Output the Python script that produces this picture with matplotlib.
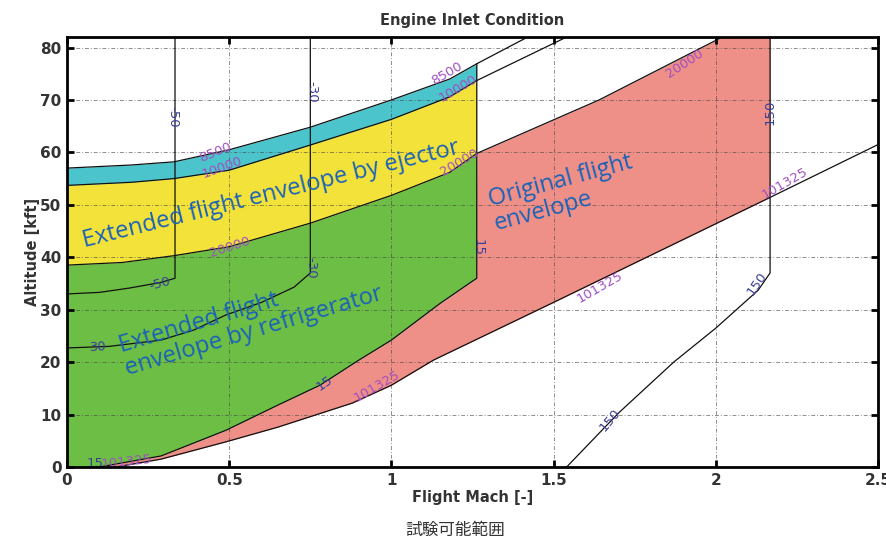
import matplotlib
matplotlib.use("Agg")

import matplotlib.pyplot as plt
import numpy as np

# pressure contours [Pa]: (Mach, altitude kft)
p8500_mach = [0, 0.1, 0.2, 0.33, 0.5, 0.75, 1.0, 1.18, 1.263, 1.42]
p8500_alt = [57.0, 57.3, 57.6, 58.2, 60.5, 64.8, 70.0, 74.0, 76.9, 82.0]
p10000_mach = [0, 0.2, 0.33, 0.5, 0.75, 1.0, 1.18, 1.263, 1.54]
p10000_alt = [53.7, 54.3, 55.0, 56.6, 61.4, 66.3, 70.6, 73.7, 82.0]
p20000_mach = [0, 0.17, 0.33, 0.5, 0.75, 1.0, 1.18, 1.263, 1.64, 2.02]
p20000_alt = [38.5, 39.0, 40.3, 42.0, 46.5, 51.8, 56.2, 59.8, 70.0, 82.0]
p101325_mach = [0.15, 0.29, 0.49, 0.65, 0.88, 1.0, 1.13, 1.5, 2.17, 2.5]
p101325_alt = [0.0, 1.5, 4.8, 7.6, 12.2, 15.6, 20.4, 31.4, 51.5, 61.5]

# temperature contours [degC]
t15_mach = [0.1, 0.29, 0.49, 0.65, 0.78, 0.9, 1.0, 1.15, 1.263, 1.263]
t15_alt = [0.0, 2.1, 7.0, 11.8, 15.6, 20.4, 24.2, 31.2, 36.0, 76.9]
tm50_mach = [0, 0.1, 0.19, 0.29, 0.333, 0.333]
tm50_alt = [33.0, 33.3, 34.1, 35.2, 36.0, 82.0]
tm30_mach = [0, 0.13, 0.29, 0.39, 0.49, 0.6, 0.7, 0.75, 0.75]
tm30_alt = [22.7, 23.0, 24.2, 26.1, 29.0, 31.4, 34.3, 37.0, 82.0]
t150_mach = [1.54, 1.70, 1.87, 2.0, 2.13, 2.167, 2.167]
t150_alt = [0.0, 10.3, 20.0, 26.5, 33.7, 37.0, 82.0]

MACH_LIMIT = 1.263   # refrigerator / ejector limit
MACH_MAX = 2.167     # original envelope right edge

CYAN = "#4cc4cc"
YELLOW = "#f2e23a"
GREEN = "#6dbe45"
SALMON = "#ef9088"
P_COLOR = "#a04fc0"
T_COLOR = "#3b3f9a"
NOTE = "#1a62b8"

p_labels = [
    ("8500", 0.459, 60.0, 22), ("10000", 0.478, 57.1, 20), ("20000", 0.502, 41.9, 18),
    ("8500", 1.171, 75.0, 30), ("10000", 1.205, 72.2, 30), ("20000", 1.211, 58.1, 30),
    ("20000", 1.905, 77.0, 33), ("101325", 0.185, 1.0, 6), ("101325", 0.955, 15.4, 30),
    ("101325", 1.643, 34.3, 30), ("101325", 2.213, 54.1, 30),
]
t_labels = [
    ("-50", 0.327, 66.7, -90), ("-30", 0.755, 71.6, -90), ("150", 2.167, 67.6, 90),
    ("-50", 0.287, 35.0, 15), ("30", 0.096, 22.9, 3), ("-30", 0.752, 37.9, -90),
    ("15", 0.795, 16.0, 35), ("15", 1.267, 41.9, -90), ("15", 0.086, 0.7, 0),
    ("150", 2.127, 35.0, 55), ("150", 1.674, 9.0, 50),
]

fig = plt.figure(figsize=(8.87, 5.42), dpi=100)
ax = fig.add_axes([0.0755, 0.1384, 0.9145, 0.7933])

# envelopes
m = np.linspace(0, MACH_LIMIT, 300)
a8500 = np.interp(m, p8500_mach, p8500_alt)
a10000 = np.interp(m, p10000_mach, p10000_alt)
a20000 = np.interp(m, p20000_mach, p20000_alt)
a15 = np.interp(m, t15_mach[:-1], t15_alt[:-1], left=0)
a101325 = np.interp(m, p101325_mach, p101325_alt, left=0)
ax.fill_between(m, a10000, a8500, color=CYAN, lw=0)
ax.fill_between(m, a20000, a10000, color=YELLOW, lw=0)
ax.fill_between(m, a15, a20000, color=GREEN, lw=0)

# original envelope: below the 15 degC line up to the limit, then up to 20000 Pa
m2 = np.linspace(0, MACH_MAX, 500)
upper = np.where(m2 < MACH_LIMIT,
                 np.interp(m2, t15_mach[:-1], t15_alt[:-1], left=0),
                 np.interp(m2, p20000_mach, p20000_alt))
ax.fill_between(m2, np.interp(m2, p101325_mach, p101325_alt, left=0), upper,
                color=SALMON, lw=0)

for xs, ys in [(p8500_mach, p8500_alt), (p10000_mach, p10000_alt),
               (p20000_mach, p20000_alt), (p101325_mach, p101325_alt),
               (t15_mach, t15_alt), (tm50_mach, tm50_alt),
               (tm30_mach, tm30_alt), (t150_mach, t150_alt)]:
    ax.plot(xs, ys, color="#111111", lw=0.9, zorder=3)

lbl_font = dict(fontsize=9.5, family="DejaVu Sans", ha="center", va="center",
                rotation_mode="anchor", zorder=4)
for txt, x, y, r in p_labels:
    ax.text(x, y, txt, color=P_COLOR, rotation=r, **lbl_font)
for txt, x, y, r in t_labels:
    ax.text(x, y, txt, color=T_COLOR, rotation=r, **lbl_font)

note_font = dict(fontsize=17, family="Open Sans", color=NOTE, ha="center",
                 va="center", rotation_mode="anchor", multialignment="left", zorder=5)
ax.text(0.630, 52.0, "Extended flight envelope by ejector", rotation=14, **note_font)
ax.text(0.567, 28.0, "Extended flight\nenvelope by refrigerator", rotation=16.5,
        linespacing=1.0, **note_font)
ax.text(1.530, 52.2, "Original flight\nenvelope", rotation=15, linespacing=1.0, **note_font)

ax.set_xlim(0, 2.5)
ax.set_ylim(0, 82)
ax.set_xticks(np.arange(0, 2.51, 0.5))
ax.set_xticklabels(["0", "0.5", "1", "1.5", "2", "2.5"])
ax.set_yticks(np.arange(0, 81, 10))
ax.grid(True, color="#444444", lw=0.7, alpha=0.6, dashes=(4, 2, 1, 2))
ax.set_axisbelow(False)
ax.tick_params(direction="in", length=5, width=2, top=True, right=True,
               labelsize=11, labelcolor="#333333", pad=4)
for lab in ax.get_xticklabels() + ax.get_yticklabels():
    lab.set_fontweight("bold")
for sp in ax.spines.values():
    sp.set_linewidth(2)
    sp.set_zorder(6)

ax.set_xlabel("Flight Mach [-]", fontsize=10.5, fontweight="bold", color="#333333", labelpad=2)
ax.set_ylabel("Altitude [kft]", fontsize=10.5, fontweight="bold", color="#333333", labelpad=0)
ax.set_title("Engine Inlet Condition", fontsize=10.5, fontweight="bold", color="#333333", pad=9)

fig.text(0.513, 0.022, "試験可能範囲", fontsize=12, family=["Noto Sans CJK JP", "DejaVu Sans"],
         color="#333333", ha="center", va="center")

fig.savefig("out.png", dpi=100)
